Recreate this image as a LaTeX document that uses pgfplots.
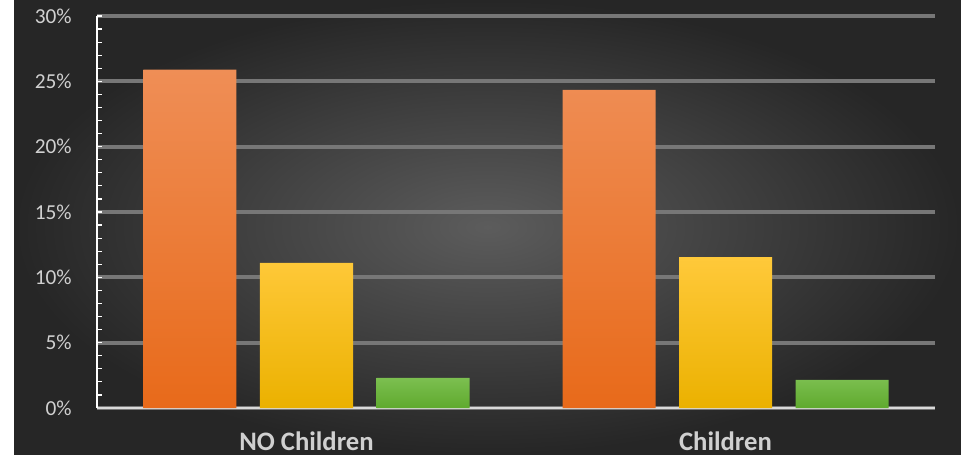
\documentclass[border=0pt]{standalone}
\usepackage{pgfplots}
\pgfplotsset{compat=1.18}
\usepackage{fontspec}
\setmainfont{Carlito}
\definecolor{bgin}{HTML}{5C5C5C}
\definecolor{bgout}{HTML}{262626}
\definecolor{gridc}{HTML}{777777}
\definecolor{labc}{HTML}{D0D0D0}
\definecolor{orTop}{HTML}{EF8E56}
\definecolor{orBot}{HTML}{E86A1A}
\definecolor{yeTop}{HTML}{FFC93A}
\definecolor{yeBot}{HTML}{EBB100}
\definecolor{grTop}{HTML}{7CBF50}
\definecolor{grBot}{HTML}{5FAA2E}
\begin{document}
\begin{tikzpicture}
\path[use as bounding box] (0,0) rectangle (720.75pt,340.5pt);
\fill[white] (0,0) rectangle (720.75pt,340.5pt);
\shade[inner color=bgin, outer color=bgout] (10.5pt,0) rectangle (720.75pt,340.5pt);
\begin{axis}[
  at={(72.75pt,34.5pt)}, anchor=south west,
  width=628.5pt, height=294pt, scale only axis,
  xmin=0.5, xmax=2.5, ymin=0, ymax=30,
  axis x line*=bottom, axis y line*=left,
  x axis line style={-, draw=labc!80, line width=1.5pt},
  y axis line style={-, draw=white, line width=0.9pt},
  xtick={1,2}, xticklabels={NO Children, Children},
  xtick style={draw=none},
  xticklabel style={anchor=base, inner sep=0pt, yshift=-28pt, font=\fontsize{20}{20}\selectfont\bfseries, text=labc},
  ytick={0,5,...,30},
  yticklabels={0\%,5\%,10\%,15\%,20\%,25\%,30\%},
  yticklabel style={anchor=east, inner sep=0pt, xshift=-18.75pt, font=\fontsize{16}{16}\selectfont, text=labc},
  minor y tick num=4,
  tick align=inside,
  major tick length=4pt, minor tick length=4pt,
  ytick style={draw=white, line width=0.9pt},
  ymajorgrids,
  major grid style={draw=gridc, line width=2.8pt},
  ybar, bar width=69.75pt,
  clip=false,
]
\addplot[draw=none, top color=orTop, bottom color=orBot, bar shift=-87.375pt] coordinates {(1,25.9) (2,24.35)};
\addplot[draw=none, top color=yeTop, bottom color=yeBot, bar shift=0pt] coordinates {(1,11.1) (2,11.55)};
\addplot[draw=none, top color=grTop, bottom color=grBot, bar shift=87.375pt] coordinates {(1,2.3) (2,2.15)};
\end{axis}
\end{tikzpicture}
\end{document}
